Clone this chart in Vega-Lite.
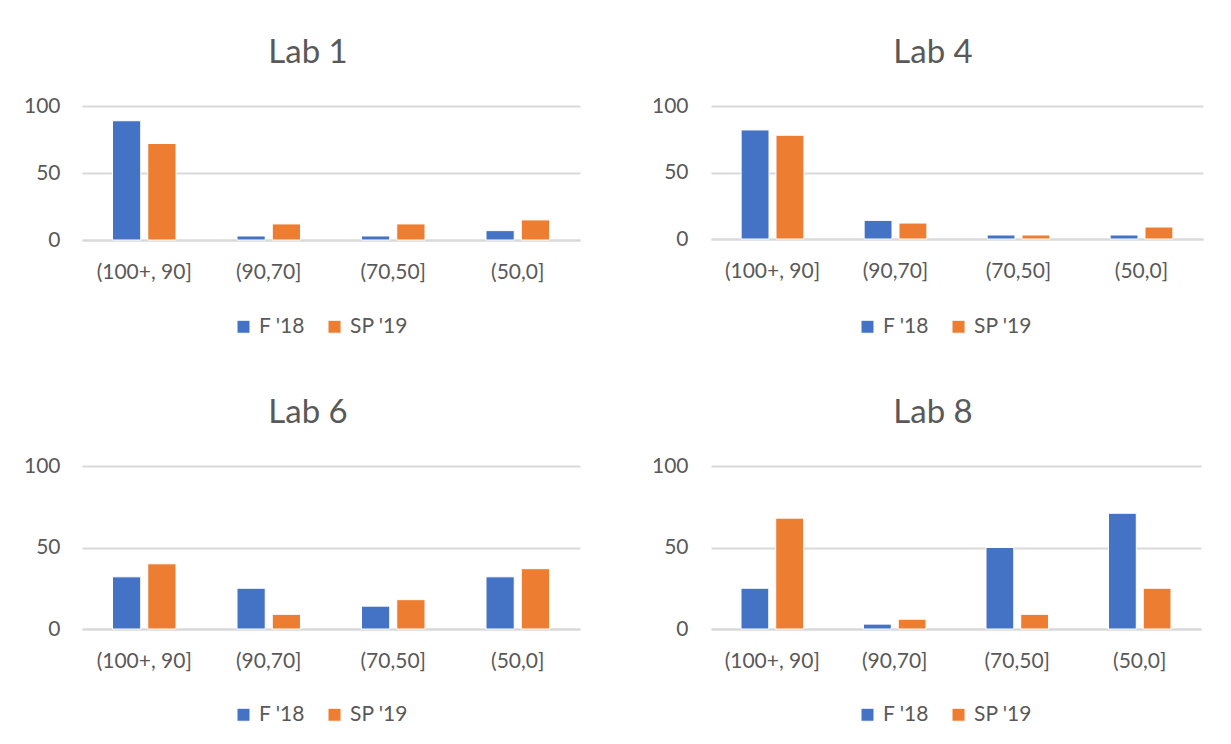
{
  "$schema": "https://vega.github.io/schema/vega-lite/v6.json",
  "background": "white",
  "padding": {"left": 23, "top": 37, "right": 5, "bottom": 5},
  "datasets": {
    "grades": [
      {"lab": "Lab 1", "range": "(100+, 90]", "term": "F '18", "pct": 89},
      {"lab": "Lab 1", "range": "(100+, 90]", "term": "SP '19", "pct": 72},
      {"lab": "Lab 1", "range": "(90,70]", "term": "F '18", "pct": 3},
      {"lab": "Lab 1", "range": "(90,70]", "term": "SP '19", "pct": 12},
      {"lab": "Lab 1", "range": "(70,50]", "term": "F '18", "pct": 3},
      {"lab": "Lab 1", "range": "(70,50]", "term": "SP '19", "pct": 12},
      {"lab": "Lab 1", "range": "(50,0]", "term": "F '18", "pct": 7},
      {"lab": "Lab 1", "range": "(50,0]", "term": "SP '19", "pct": 15},
      {"lab": "Lab 4", "range": "(100+, 90]", "term": "F '18", "pct": 82},
      {"lab": "Lab 4", "range": "(100+, 90]", "term": "SP '19", "pct": 78},
      {"lab": "Lab 4", "range": "(90,70]", "term": "F '18", "pct": 14},
      {"lab": "Lab 4", "range": "(90,70]", "term": "SP '19", "pct": 12},
      {"lab": "Lab 4", "range": "(70,50]", "term": "F '18", "pct": 3},
      {"lab": "Lab 4", "range": "(70,50]", "term": "SP '19", "pct": 3},
      {"lab": "Lab 4", "range": "(50,0]", "term": "F '18", "pct": 3},
      {"lab": "Lab 4", "range": "(50,0]", "term": "SP '19", "pct": 9},
      {"lab": "Lab 6", "range": "(100+, 90]", "term": "F '18", "pct": 32},
      {"lab": "Lab 6", "range": "(100+, 90]", "term": "SP '19", "pct": 40},
      {"lab": "Lab 6", "range": "(90,70]", "term": "F '18", "pct": 25},
      {"lab": "Lab 6", "range": "(90,70]", "term": "SP '19", "pct": 9},
      {"lab": "Lab 6", "range": "(70,50]", "term": "F '18", "pct": 14},
      {"lab": "Lab 6", "range": "(70,50]", "term": "SP '19", "pct": 18},
      {"lab": "Lab 6", "range": "(50,0]", "term": "F '18", "pct": 32},
      {"lab": "Lab 6", "range": "(50,0]", "term": "SP '19", "pct": 37},
      {"lab": "Lab 8", "range": "(100+, 90]", "term": "F '18", "pct": 25},
      {"lab": "Lab 8", "range": "(100+, 90]", "term": "SP '19", "pct": 68},
      {"lab": "Lab 8", "range": "(90,70]", "term": "F '18", "pct": 3},
      {"lab": "Lab 8", "range": "(90,70]", "term": "SP '19", "pct": 6},
      {"lab": "Lab 8", "range": "(70,50]", "term": "F '18", "pct": 50},
      {"lab": "Lab 8", "range": "(70,50]", "term": "SP '19", "pct": 9},
      {"lab": "Lab 8", "range": "(50,0]", "term": "F '18", "pct": 71},
      {"lab": "Lab 8", "range": "(50,0]", "term": "SP '19", "pct": 25}
    ]
  },
  "config": {
    "font": "Lato",
    "view": {"stroke": null},
    "title": {"fontSize": 33, "fontWeight": "normal", "color": "#595959", "anchor": "middle", "offset": 25, "font": "Lato"},
    "axis": {"labelFont": "Lato", "labelFontSize": 21, "labelColor": "#595959", "ticks": false, "domain": false, "gridColor": "#D9D9D9", "gridWidth": 2, "title": null},
    "legend": {
      "orient": "none", "direction": "horizontal", "title": null,
      "symbolType": "square", "symbolSize": 169, "symbolStrokeWidth": 0,
      "labelFont": "Lato", "labelFontSize": 21, "labelColor": "#595959",
      "labelOffset": 5, "columnPadding": 19
    },
    "bar": {"stroke": "white", "strokeWidth": 1}
  },
  "resolve": {"scale": {"color": "independent", "xOffset": "independent"}},
  "spacing": 60,
  "vconcat": [
    {
      "spacing": 71,
      "resolve": {"scale": {"color": "independent", "xOffset": "independent"}},
      "hconcat": [
        {
          "title": {"text": "Lab 1", "dx": -23},
          "data": {"name": "grades"},
          "transform": [{"filter": "datum.lab == 'Lab 1'"}],
          "width": 498, "height": 134,
          "mark": "bar",
          "encoding": {
            "x": {"field": "range", "type": "nominal", "sort": ["(100+, 90]", "(90,70]", "(70,50]", "(50,0]"], "scale": {"paddingInner": 0.49, "paddingOuter": 0.245}, "axis": {"labelAngle": 0, "labelPadding": 21, "domain": true, "domainColor": "#D9D9D9", "domainWidth": 2, "grid": false}},
            "xOffset": {"field": "term", "type": "nominal", "sort": ["F '18", "SP '19"], "scale": {"paddingInner": 0.2}},
            "y": {"field": "pct", "type": "quantitative", "scale": {"domain": [0, 100]}, "axis": {"values": [0, 50, 100], "labelPadding": 22, "grid": true}},
            "color": {"field": "term", "type": "nominal", "scale": {"domain": ["F '18", "SP '19"], "range": ["#4472C4", "#ED7D31"]}, "legend": {"legendX": 151, "legendY": 210}}
          }
        },
        {
          "title": {"text": "Lab 4", "dx": -24},
          "data": {"name": "grades"},
          "transform": [{"filter": "datum.lab == 'Lab 4'"}],
          "width": 492, "height": 133,
          "mark": "bar",
          "encoding": {
            "x": {"field": "range", "type": "nominal", "sort": ["(100+, 90]", "(90,70]", "(70,50]", "(50,0]"], "scale": {"paddingInner": 0.49, "paddingOuter": 0.245}, "axis": {"labelAngle": 0, "labelPadding": 21, "domain": true, "domainColor": "#D9D9D9", "domainWidth": 2, "grid": false}},
            "xOffset": {"field": "term", "type": "nominal", "sort": ["F '18", "SP '19"], "scale": {"paddingInner": 0.2}},
            "y": {"field": "pct", "type": "quantitative", "scale": {"domain": [0, 100]}, "axis": {"values": [0, 50, 100], "labelPadding": 23, "grid": true}},
            "color": {"field": "term", "type": "nominal", "scale": {"domain": ["F '18", "SP '19"], "range": ["#4472C4", "#ED7D31"]}, "legend": {"legendX": 146, "legendY": 210}}
          }
        }
      ]
    },
    {
      "spacing": 71,
      "resolve": {"scale": {"color": "independent", "xOffset": "independent"}},
      "hconcat": [
        {
          "title": {"text": "Lab 6", "dx": -23},
          "data": {"name": "grades"},
          "transform": [{"filter": "datum.lab == 'Lab 6'"}],
          "width": 498, "height": 163,
          "mark": "bar",
          "encoding": {
            "x": {"field": "range", "type": "nominal", "sort": ["(100+, 90]", "(90,70]", "(70,50]", "(50,0]"], "scale": {"paddingInner": 0.49, "paddingOuter": 0.245}, "axis": {"labelAngle": 0, "labelPadding": 21, "domain": true, "domainColor": "#D9D9D9", "domainWidth": 2, "grid": false}},
            "xOffset": {"field": "term", "type": "nominal", "sort": ["F '18", "SP '19"], "scale": {"paddingInner": 0.2}},
            "y": {"field": "pct", "type": "quantitative", "scale": {"domain": [0, 100]}, "axis": {"values": [0, 50, 100], "labelPadding": 22, "grid": true}},
            "color": {"field": "term", "type": "nominal", "scale": {"domain": ["F '18", "SP '19"], "range": ["#4472C4", "#ED7D31"]}, "legend": {"legendX": 151, "legendY": 238}}
          }
        },
        {
          "title": {"text": "Lab 8", "dx": -23},
          "data": {"name": "grades"},
          "transform": [{"filter": "datum.lab == 'Lab 8'"}],
          "width": 490, "height": 163,
          "mark": "bar",
          "encoding": {
            "x": {"field": "range", "type": "nominal", "sort": ["(100+, 90]", "(90,70]", "(70,50]", "(50,0]"], "scale": {"paddingInner": 0.49, "paddingOuter": 0.245}, "axis": {"labelAngle": 0, "labelPadding": 21, "domain": true, "domainColor": "#D9D9D9", "domainWidth": 2, "grid": false}},
            "xOffset": {"field": "term", "type": "nominal", "sort": ["F '18", "SP '19"], "scale": {"paddingInner": 0.2}},
            "y": {"field": "pct", "type": "quantitative", "scale": {"domain": [0, 100]}, "axis": {"values": [0, 50, 100], "labelPadding": 23, "grid": true}},
            "color": {"field": "term", "type": "nominal", "scale": {"domain": ["F '18", "SP '19"], "range": ["#4472C4", "#ED7D31"]}, "legend": {"legendX": 146, "legendY": 238}}
          }
        }
      ]
    }
  ]
}
